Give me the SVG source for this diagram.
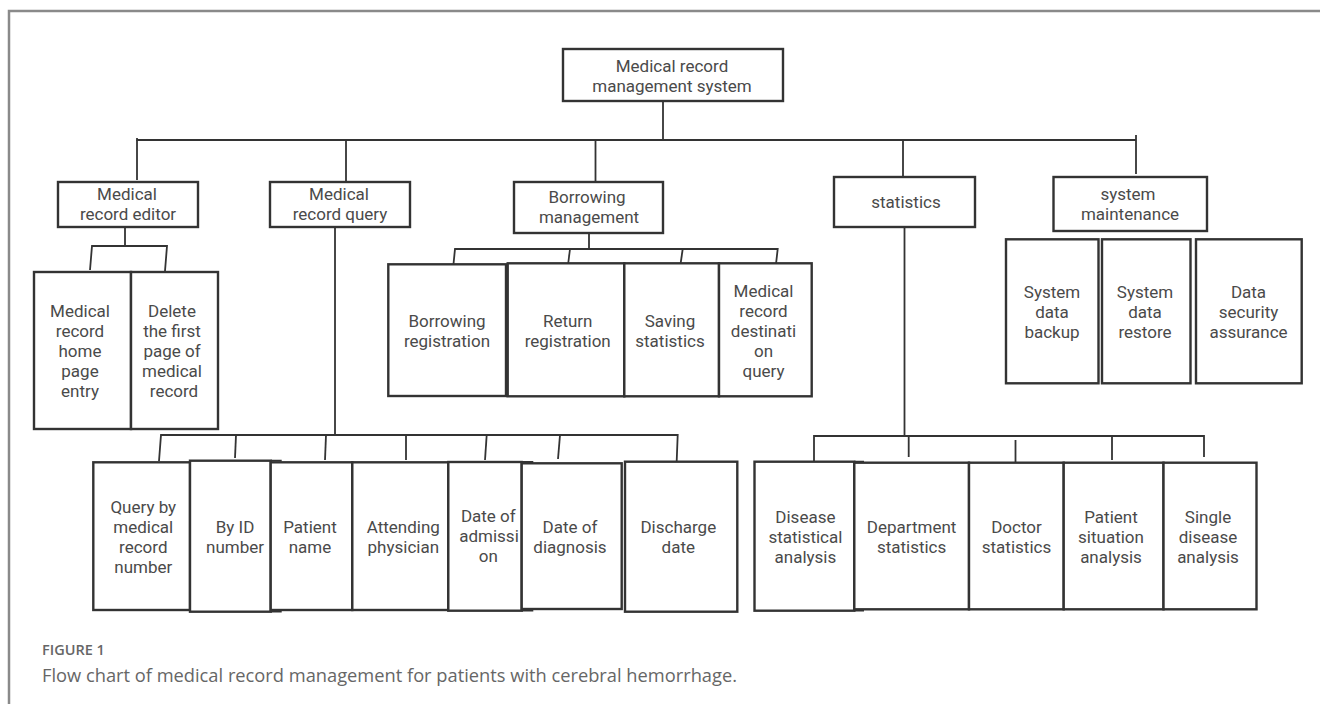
<svg xmlns="http://www.w3.org/2000/svg" width="1320" height="704" viewBox="0 0 1320 704">
<style>
.bx{fill:#fff;stroke:#333;stroke-width:2.4}
.t{font-family:Roboto,"Open Sans",sans-serif;font-size:17px;fill:#4a4a4a;text-anchor:middle}
.cn{fill:none;stroke:#333;stroke-width:1.8}
.cap1{font-family:"Open Sans","Noto Sans",sans-serif;font-size:14.5px;font-weight:600;fill:#666}
.cap2{font-family:"Open Sans","Noto Sans",sans-serif;font-size:17.5px;fill:#666}
</style>
<rect width="1320" height="704" fill="#fff"/>
<path d="M9 704 V11 H1320" fill="none" stroke="#8a8a8a" stroke-width="2.5"/>

<g id="connectors" class="cn">
<path d="M663 101 V140"/>
<path d="M137 138 V140 H1136"/>
<path d="M137 140 V180"/>
<path d="M346 140 V182"/>
<path d="M595.5 140 V182"/>
<path d="M903 140 V177"/>
<path d="M1136 135 V174"/>
<path d="M125 227 V247"/>
<path d="M90 270 L92 246 H167 L165 271"/>
<path d="M589 233 V249"/>
<path d="M453.5 264 L455 249 H777.7 L776 264"/>
<path d="M570 249 L568 265"/>
<path d="M682.7 249 L680.7 263"/>
<path d="M335 227 V435"/>
<path d="M159 461 L161 435 H677.7 L676.7 461"/>
<path d="M236 435 L235 458"/>
<path d="M326 435 L325 460"/>
<path d="M406 435 V460"/>
<path d="M486.7 435 L485 460"/>
<path d="M560 435 L558 459"/>
<path d="M904.5 227 V436"/>
<path d="M814 462 V436 H1204 V457"/>
<path d="M908.7 436 V457"/>
<path d="M1015.5 440 V463"/>
<path d="M1112 436 V460"/>
</g>

<g id="root"><rect class="bx" x="563" y="49" width="220" height="52"/>
<text class="t" x="672" y="71.5">Medical record</text><text class="t" x="672" y="91.5">management system</text></g>

<g id="editor"><rect class="bx" x="58" y="182" width="140" height="45"/>
<text class="t" x="127" y="200">Medical</text><text class="t" x="128" y="220">record editor</text></g>
<g id="query"><rect class="bx" x="270" y="182" width="140" height="45"/>
<text class="t" x="339" y="200">Medical</text><text class="t" x="340" y="220">record query</text></g>
<g id="borrowing"><rect class="bx" x="514" y="182" width="149" height="51"/>
<text class="t" x="587" y="203">Borrowing</text><text class="t" x="589" y="223">management</text></g>
<g id="statistics"><rect class="bx" x="834" y="177" width="141" height="50"/>
<text class="t" x="906" y="207.5">statistics</text></g>
<g id="sysmaint"><rect class="bx" x="1053.5" y="177" width="153.5" height="54"/>
<text class="t" x="1128" y="200">system</text><text class="t" x="1130" y="220">maintenance</text></g>

<g id="home-entry"><rect class="bx" x="34" y="272" width="97" height="157"/>
<text class="t" x="80" y="317">Medical</text><text class="t" x="80" y="337">record</text><text class="t" x="80" y="357">home</text><text class="t" x="80" y="377">page</text><text class="t" x="80" y="397">entry</text></g>
<g id="delete-first"><rect class="bx" x="131" y="272" width="87" height="157"/>
<text class="t" x="172" y="317">Delete</text><text class="t" x="172" y="337">the first</text><text class="t" x="172" y="357">page of</text><text class="t" x="172" y="377">medical</text><text class="t" x="174" y="397">record</text></g>

<g id="borrow-reg"><rect class="bx" x="388.3" y="264.3" width="117.7" height="131.7"/>
<text class="t" x="447" y="326.5">Borrowing</text><text class="t" x="447" y="346.5">registration</text></g>
<g id="return-reg"><rect class="bx" x="507.7" y="263.3" width="116.6" height="133"/>
<text class="t" x="567.7" y="326.5">Return</text><text class="t" x="567.7" y="346.5">registration</text></g>
<g id="saving-stats"><rect class="bx" x="624.3" y="263.3" width="94.7" height="133"/>
<text class="t" x="670" y="326.5">Saving</text><text class="t" x="670" y="346.5">statistics</text></g>
<g id="destination-query"><rect class="bx" x="719" y="263.3" width="92.7" height="133"/>
<text class="t" x="763.5" y="296.5">Medical</text><text class="t" x="763.5" y="316.5">record</text><text class="t" x="763.5" y="336.5">destinati</text><text class="t" x="763.5" y="356.5">on</text><text class="t" x="763.5" y="376.5">query</text></g>

<g id="sys-backup"><rect class="bx" x="1006" y="239.3" width="92.5" height="144"/>
<text class="t" x="1052" y="298">System</text><text class="t" x="1052" y="318">data</text><text class="t" x="1052" y="338">backup</text></g>
<g id="sys-restore"><rect class="bx" x="1102" y="239.3" width="88.5" height="144"/>
<text class="t" x="1145" y="298">System</text><text class="t" x="1145" y="318">data</text><text class="t" x="1145" y="338">restore</text></g>
<g id="data-security"><rect class="bx" x="1196" y="239.3" width="105.7" height="144"/>
<text class="t" x="1248.5" y="298">Data</text><text class="t" x="1248.5" y="318">security</text><text class="t" x="1248.5" y="338">assurance</text></g>

<g id="q-record-number"><rect class="bx" x="93.3" y="462.3" width="96.7" height="147.7"/>
<text class="t" x="143.3" y="512.7">Query by</text><text class="t" x="143.3" y="532.7">medical</text><text class="t" x="143.3" y="552.7">record</text><text class="t" x="143.3" y="572.7">number</text></g>
<g id="q-id"><rect class="bx" x="190" y="460.7" width="80.7" height="151"/>
<path d="M270.7 460.7 H281.7 M270.7 611.7 H281.7" class="cn"/>
<text class="t" x="235" y="533.3">By ID</text><text class="t" x="235" y="553.3">number</text></g>
<g id="q-name"><rect class="bx" x="270.7" y="462.3" width="81.6" height="147.7"/>
<text class="t" x="310" y="533.3">Patient</text><text class="t" x="310" y="553.3">name</text></g>
<g id="q-physician"><rect class="bx" x="352.3" y="462.3" width="96" height="147.7"/>
<text class="t" x="403.3" y="533.3">Attending</text><text class="t" x="403.3" y="553.3">physician</text></g>
<g id="q-admission"><rect class="bx" x="448.3" y="462" width="73.4" height="148.7"/>
<path d="M521.7 462 H533.3 M521.7 610.7 H533.3" class="cn"/>
<text class="t" x="488.3" y="521.7">Date of</text><text class="t" x="489" y="541.7">admissi</text><text class="t" x="488.3" y="561.7">on</text></g>
<g id="q-diagnosis"><rect class="bx" x="521.7" y="463.3" width="100" height="145.7"/>
<text class="t" x="570" y="533.3">Date of</text><text class="t" x="570" y="553.3">diagnosis</text></g>
<g id="q-discharge"><rect class="bx" x="625" y="461.7" width="112.3" height="150"/>
<text class="t" x="678.3" y="533.3">Discharge</text><text class="t" x="678.3" y="553.3">date</text></g>

<g id="s-disease"><rect class="bx" x="754.5" y="461.7" width="99.8" height="149"/>
<path d="M854.3 461.7 H864 M854.3 610.7 H864" class="cn"/>
<text class="t" x="805.4" y="523.3">Disease</text><text class="t" x="805.4" y="543.3">statistical</text><text class="t" x="805.4" y="563.3">analysis</text></g>
<g id="s-department"><rect class="bx" x="854.3" y="462.7" width="114.7" height="146.6"/>
<text class="t" x="911.6" y="533.3">Department</text><text class="t" x="911.6" y="553.3">statistics</text></g>
<g id="s-doctor"><rect class="bx" x="969" y="462.7" width="94.7" height="146.6"/>
<text class="t" x="1016.5" y="533.3">Doctor</text><text class="t" x="1016.5" y="553.3">statistics</text></g>
<g id="s-patient"><rect class="bx" x="1063.7" y="462.7" width="99.8" height="146.6"/>
<text class="t" x="1111" y="523.3">Patient</text><text class="t" x="1111" y="543.3">situation</text><text class="t" x="1111" y="563.3">analysis</text></g>
<g id="s-single"><rect class="bx" x="1163.5" y="462.7" width="93" height="146.6"/>
<text class="t" x="1208" y="523.3">Single</text><text class="t" x="1208" y="543.3">disease</text><text class="t" x="1208" y="563.3">analysis</text></g>

<text class="cap1" x="42" y="655">FIGURE 1</text>
<text class="cap2" x="42" y="681.5" textLength="695" lengthAdjust="spacingAndGlyphs">Flow chart of medical record management for patients with cerebral hemorrhage.</text>
</svg>
